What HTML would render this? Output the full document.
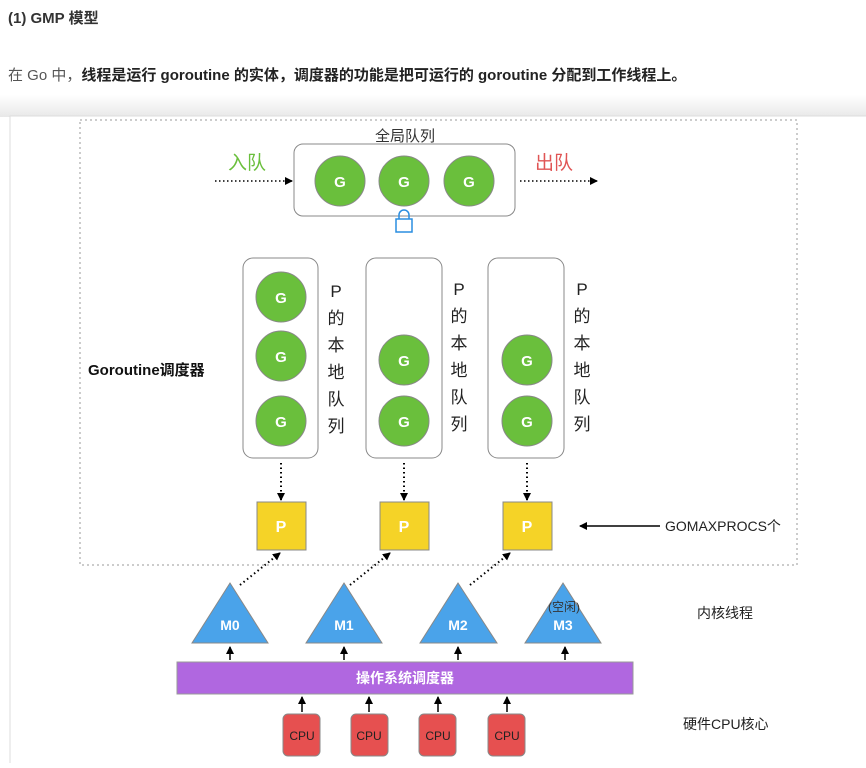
<!DOCTYPE html>
<html><head><meta charset="utf-8"><style>
body{margin:0;width:866px;height:763px;overflow:hidden;background:#fff;font-family:"Liberation Sans","Noto Sans CJK SC",sans-serif;}
</style></head><body>
<svg width="866" height="763" xmlns="http://www.w3.org/2000/svg" font-family="Liberation Sans, Noto Sans CJK SC, sans-serif">
<defs>
<marker id="a" markerWidth="8" markerHeight="8" refX="7" refY="4" orient="auto" markerUnits="userSpaceOnUse"><path d="M0,0 L8,4 L0,8 z" fill="#000"/></marker>
<linearGradient id="sh" x1="0" y1="0" x2="0" y2="1"><stop offset="0" stop-color="#fff"/><stop offset="1" stop-color="#e8e8e8"/></linearGradient>
</defs>
<rect x="0" y="95" width="866" height="22" fill="url(#sh)"/>
<text x="8" y="23" font-size="15" font-weight="bold" fill="#333">(1) GMP 模型</text>
<text x="8" y="80" font-size="15" fill="#555">在 Go 中，<tspan font-weight="bold" fill="#222">线程是运行 goroutine 的实体，调度器的功能是把可运行的 goroutine 分配到工作线程上。</tspan></text>
<rect x="10" y="116" width="870" height="660" fill="#fff" stroke="#ddd"/>
<rect x="80" y="120" width="717" height="445" fill="none" stroke="#999" stroke-dasharray="2,3"/>
<text x="405" y="141" font-size="15" text-anchor="middle" fill="#333">全局队列</text>
<rect x="294" y="144" width="221" height="72" rx="9" fill="#fff" stroke="#888"/>
<g font-size="15" font-weight="bold" fill="#fff" text-anchor="middle">
<circle cx="340" cy="181" r="25" fill="#6abf3c" stroke="#888"/><text x="340" y="187">G</text>
<circle cx="404" cy="181" r="25" fill="#6abf3c" stroke="#888"/><text x="404" y="187">G</text>
<circle cx="469" cy="181" r="25" fill="#6abf3c" stroke="#888"/><text x="469" y="187">G</text>
</g>
<rect x="396" y="219" width="16" height="13" fill="#fff" stroke="#2a8de0" stroke-width="1.5"/>
<path d="M399,219 v-4 a5,5 0 0 1 10,0 v4" fill="none" stroke="#2a8de0" stroke-width="1.5"/>
<text x="228" y="169" font-size="19" fill="#6abf3c">入队</text>
<text x="535" y="169" font-size="19" fill="#e05555">出队</text>
<line x1="215" y1="181" x2="292" y2="181" stroke="#000" stroke-width="1.5" stroke-dasharray="1.5,2.5" marker-end="url(#a)"/>
<line x1="520" y1="181" x2="597" y2="181" stroke="#000" stroke-width="1.5" stroke-dasharray="1.5,2.5" marker-end="url(#a)"/>
<text x="88" y="375" font-size="15" font-weight="bold" fill="#111">Goroutine调度器</text>
<g fill="#fff" stroke="#888"><rect x="243" y="258" width="75" height="200" rx="10"/><rect x="366" y="258" width="76" height="200" rx="10"/><rect x="488" y="258" width="76" height="200" rx="10"/></g>
<g font-size="15" font-weight="bold" fill="#fff" text-anchor="middle">
<circle cx="281" cy="297" r="25" fill="#6abf3c" stroke="#888"/><text x="281" y="303">G</text>
<circle cx="281" cy="356" r="25" fill="#6abf3c" stroke="#888"/><text x="281" y="362">G</text>
<circle cx="281" cy="421" r="25" fill="#6abf3c" stroke="#888"/><text x="281" y="427">G</text>
<circle cx="404" cy="360" r="25" fill="#6abf3c" stroke="#888"/><text x="404" y="366">G</text>
<circle cx="404" cy="421" r="25" fill="#6abf3c" stroke="#888"/><text x="404" y="427">G</text>
<circle cx="527" cy="360" r="25" fill="#6abf3c" stroke="#888"/><text x="527" y="366">G</text>
<circle cx="527" cy="421" r="25" fill="#6abf3c" stroke="#888"/><text x="527" y="427">G</text>
</g>
<g font-size="17" fill="#222" text-anchor="middle">
<text x="336" y="297">P</text><text x="336" y="324">的</text><text x="336" y="351">本</text><text x="336" y="378">地</text><text x="336" y="405">队</text><text x="336" y="432">列</text>
<text x="459" y="295">P</text><text x="459" y="322">的</text><text x="459" y="349">本</text><text x="459" y="376">地</text><text x="459" y="403">队</text><text x="459" y="430">列</text>
<text x="582" y="295">P</text><text x="582" y="322">的</text><text x="582" y="349">本</text><text x="582" y="376">地</text><text x="582" y="403">队</text><text x="582" y="430">列</text>
</g>
<g stroke="#000" stroke-width="2" stroke-dasharray="1.5,3">
<line x1="281" y1="463" x2="281" y2="500" marker-end="url(#a)"/>
<line x1="404" y1="463" x2="404" y2="500" marker-end="url(#a)"/>
<line x1="527" y1="463" x2="527" y2="500" marker-end="url(#a)"/>
<line x1="240" y1="585" x2="280" y2="553" marker-end="url(#a)"/>
<line x1="350" y1="585" x2="390" y2="553" marker-end="url(#a)"/>
<line x1="470" y1="585" x2="510" y2="553" marker-end="url(#a)"/>
</g>
<g font-size="16" font-weight="bold" fill="#fff" text-anchor="middle">
<rect x="257" y="502" width="49" height="48" fill="#f5d327" stroke="#888"/><text x="281" y="532">P</text>
<rect x="380" y="502" width="49" height="48" fill="#f5d327" stroke="#888"/><text x="404" y="532">P</text>
<rect x="503" y="502" width="49" height="48" fill="#f5d327" stroke="#888"/><text x="527" y="532">P</text>
</g>
<line x1="660" y1="526" x2="580" y2="526" stroke="#000" stroke-width="1.5" marker-end="url(#a)"/>
<text x="665" y="531" font-size="14" fill="#222">GOMAXPROCS个</text>
<g fill="#4aa3ea" stroke="#888">
<polygon points="230,583 268,643 192,643"/><polygon points="344,583 382,643 306,643"/><polygon points="458,583 497,643 420,643"/><polygon points="563,583 601,643 525,643"/>
</g>
<g font-size="14" font-weight="bold" fill="#fff" text-anchor="middle">
<text x="230" y="630">M0</text><text x="344" y="630">M1</text><text x="458" y="630">M2</text><text x="563" y="630">M3</text>
</g>
<text x="564" y="611" font-size="12" fill="#333" text-anchor="middle">(空闲)</text>
<text x="697" y="618" font-size="14" fill="#222">内核线程</text>
<g stroke="#000" stroke-width="1.5">
<line x1="230" y1="660" x2="230" y2="647" marker-end="url(#a)"/><line x1="344" y1="660" x2="344" y2="647" marker-end="url(#a)"/><line x1="458" y1="660" x2="458" y2="647" marker-end="url(#a)"/><line x1="565" y1="660" x2="565" y2="647" marker-end="url(#a)"/>
<line x1="302" y1="712" x2="302" y2="697" marker-end="url(#a)"/><line x1="369" y1="712" x2="369" y2="697" marker-end="url(#a)"/><line x1="438" y1="712" x2="438" y2="697" marker-end="url(#a)"/><line x1="507" y1="712" x2="507" y2="697" marker-end="url(#a)"/>
</g>
<rect x="177" y="662" width="456" height="32" fill="#b067e0" stroke="#999"/>
<text x="405" y="683" font-size="14" font-weight="bold" fill="#fff" text-anchor="middle">操作系统调度器</text>
<g fill="#e65050" stroke="#888">
<rect x="283" y="714" width="37" height="42" rx="5"/><rect x="351" y="714" width="37" height="42" rx="5"/><rect x="419" y="714" width="37" height="42" rx="5"/><rect x="488" y="714" width="37" height="42" rx="5"/>
</g>
<g font-size="12" fill="#222" text-anchor="middle">
<text x="302" y="740">CPU</text><text x="369" y="740">CPU</text><text x="438" y="740">CPU</text><text x="507" y="740">CPU</text>
</g>
<text x="683" y="729" font-size="14" fill="#222">硬件CPU核心</text>
</svg>
</body></html>
